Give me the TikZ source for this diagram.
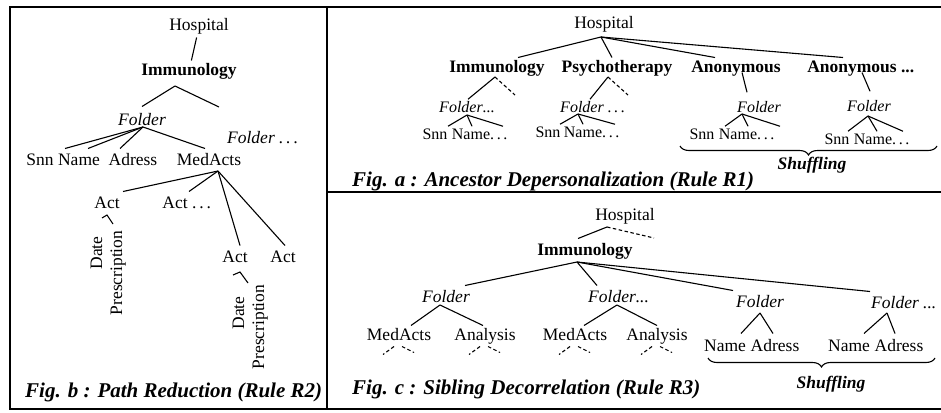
\documentclass[tikz,border=0pt]{standalone}
\usepackage{fontspec}
\setmainfont{Liberation Serif}
\usetikzlibrary{calc, positioning, decorations.pathreplacing}

\begin{document}
\begin{tikzpicture}[x=1pt, y=-1pt,
    lbl/.style={font=\fontsize{17.5}{20}\selectfont, inner sep=1.5pt, outer sep=1pt, text height=12pt, text depth=4pt},
    lblb/.style={lbl, font=\fontsize{17.5}{20}\selectfont\bfseries},
    lbli/.style={lbl, font=\fontsize{17.5}{20}\selectfont\itshape},
    leaf/.style={lbl, font=\fontsize{16}{19}\selectfont, text height=11pt, text depth=3.5pt},
    leafi/.style={leaf, font=\fontsize{16}{19}\selectfont\itshape},
    vlbl/.style={lbl, rotate=90},
    shuf/.style={lbl, font=\fontsize{17.5}{20}\selectfont\bfseries\itshape},
    capt/.style={font=\fontsize{21}{24}\selectfont\bfseries\itshape, inner sep=0pt, anchor=base west},
    tline/.style={line width=1.1pt},
    dashline/.style={tline, dash pattern=on 3.5pt off 2.5pt},
    border/.style={line width=1.8pt},
    brc/.style={line width=1.1pt, decorate, decoration={brace, mirror, amplitude=9pt}}
]
                \useasboundingbox (0,0) rectangle (941,412);

                % Frames
                \draw[border] (941,7) -- (10,7) -- (10,409) -- (941,409);
                \draw[border] (327,7) -- (327,409);
                \draw[border] (327,192) -- (941,192);

                % Fig. b (path reduction)
                \node[lbl] (hospB) at (199,27) {Hospital};
                \node[lblb] (immB) at (189,71) {Immunology};
                \node[lbli] (folB) at (142,121) {Folder};
                \node[lbli] (folB2) at (251,139) {Folder\rlap{~.\,.\,.}};
                \draw[tline] (hospB) -- (immB);
                \coordinate (immBa) at (175,86);
                \coordinate (immBr) at (219,107);
                \draw[tline] (immBa) -- ([yshift=4pt]folB.north);
                \draw[tline] (immBa) -- (immBr);

                \node[lbl] (snnB) at (40,161) {Snn};
                \node[lbl] (nameB) at (79,161) {Name};
                \node[lbl] (adrB) at (133,161) {Adress};
                \node[lbl] (medB) at (209,161) {MedActs};
                \coordinate (folBa) at (143,127);
                \foreach \n/\dx in {snnB/25, nameB/9, adrB/-13, medB/-4} {
                    \draw[tline] (folBa) -- ([xshift=\dx pt, yshift=2pt]\n.north);
                }

                \node[lbl] (actB1) at (107,204) {Act};
                \node[lbl] (actB2) at (175,204) {Act\rlap{~.\,.\,.}};
                \node[lbl] (actB3) at (235,258) {Act};
                \node[lbl] (actB4) at (283,258) {Act};
                \coordinate (medBa) at (218,171);
                \foreach \n/\dx in {actB1/16, actB2/14, actB3/5, actB4/2} {
                    \draw[tline] (medBa) -- ([xshift=\dx pt, yshift=2pt]\n.north);
                }

                \node[vlbl] (dateB1) at (98,253) {Date};
                \node[vlbl] (presB1) at (118,273) {Prescription};
                \node[vlbl] (dateB2) at (240,313) {Date};
                \node[vlbl] (presB2) at (260,327) {Prescription};
                \coordinate (actB1a) at (107,215);
                \coordinate (dB1) at (102,218);
                \coordinate (pB1) at (113,224);
                \draw[tline] (dB1) -- (actB1a) -- (pB1);
                \coordinate (actB3a) at (240,272);
                \coordinate (dB2) at (233,275);
                \coordinate (pB2) at (248,283);
                \draw[tline] (dB2) -- (actB3a) -- (pB2);

                \node[capt] (capB) at (25,397) {Fig. b : Path Reduction (Rule R2)};

                % Fig. a (ancestor depersonalization)
                \node[lbl] (hospA) at (604,25) {Hospital};
                \node[lblb] (immA) at (497,68) {Immunology};
                \node[lblb] (psyA) at (617,68) {Psychotherapy};
                \node[lblb] (anoA1) at (736,68) {Anonymous};
                \node[lblb] (anoA2) at (852,68) {Anonymous\rlap{~...}};
                \coordinate (hospAa) at (601,37);
                \foreach \n/\dx in {immA/21, psyA/-5, anoA1/-21, anoA2/-9} {
                    \draw[tline] (hospAa) -- ([xshift=\dx pt]\n.north);
                }

                \node[leafi] (folA1) at (461,109) {Folder\rlap{...}};
                \node[leaf] (snnA1) at (435,136) {Snn};
                \node[leaf] (nameA1) at (471,136) {Name\rlap{.\,.\,.}};
                \coordinate (immAa) at (495,77);
                \coordinate (immAd) at (515,95);
                \draw[tline] (immAa) -- ([xshift=7pt]folA1.north);
                \draw[dashline] (immAa) -- (immAd);
                \coordinate (folA1a) at (467,115);
                \foreach \n/\dx in {snnA1/13, nameA1/1, nameA1/32} {
                    \draw[tline] (folA1a) -- ([xshift=\dx pt]\n.north);
                }

                \node[leafi] (folA2) at (582,109) {Folder\rlap{~.\,.\,.}};
                \node[leaf] (snnA2) at (548,134) {Snn};
                \node[leaf] (nameA2) at (583,134) {Name\rlap{.\,.\,.}};
                \coordinate (psyAa) at (608,77);
                \coordinate (psyAd) at (628,95);
                \draw[tline] (psyAa) -- ([xshift=8pt]folA2.north);
                \draw[dashline] (psyAa) -- (psyAd);
                \coordinate (folA2a) at (578,114);
                \foreach \n/\dx in {snnA2/12, nameA2/0, nameA2/32} {
                    \draw[tline] (folA2a) -- ([xshift=\dx pt]\n.north);
                }

                \node[leafi] (folA3) at (759,109) {Folder};
                \node[leaf] (snnA3) at (702,136) {Snn};
                \node[leaf] (nameA3) at (738,136) {Name\rlap{.\,.\,.}};
                \draw[tline] ([xshift=6pt, yshift=6pt]anoA1.south) -- ([xshift=-12pt, yshift=7pt]folA3.north);
                \coordinate (folA3a) at (742,114);
                \foreach \n/\dx in {snnA3/23, nameA3/10, nameA3/42} {
                    \draw[tline] (folA3a) -- ([xshift=\dx pt]\n.north);
                }

                \node[leafi] (folA4) at (869,108) {Folder};
                \node[leaf] (snnA4) at (837,141) {Snn};
                \node[leaf] (nameA4) at (873,141) {Name\rlap{.\,.\,.}};
                \draw[tline] ([xshift=10pt, yshift=6pt]anoA2.south) -- ([xshift=1pt, yshift=7pt]folA4.north);
                \coordinate (folA4a) at (868,116);
                \foreach \n/\dx in {snnA4/11, nameA4/4, nameA4/30} {
                    \draw[tline] (folA4a) -- ([xshift=\dx pt]\n.north);
                }

                \coordinate (brA1) at (680,146);
                \coordinate (brA2) at (937,146);
                \draw[brc] (brA1) -- (brA2);
                \node[shuf] (shufA) at (812,165) {Shuffling};

                \node[capt] (capA) at (352,186) {Fig. a : Ancestor Depersonalization (Rule R1)};

                % Fig. c (sibling decorrelation)
                \node[lbl] (hospC) at (625,216) {Hospital};
                \node[lblb] (immC) at (585,251) {Immunology};
                \coordinate (hospCa) at (607,227);
                \coordinate (hospCd) at (654,238);
                \draw[tline] (hospCa) -- ([xshift=-7pt, yshift=2pt]immC.north);
                \draw[dashline] (hospCa) -- (hospCd);

                \node[lbli] (folC1) at (446,298) {Folder};
                \node[lbli] (folC2) at (612,298) {Folder\rlap{...}};
                \node[lbli] (folC3) at (760,303) {Folder};
                \node[lbli] (folC4) at (895,304) {Folder\rlap{~...}};
                \coordinate (immCa) at (577,262);
                \foreach \n/\dx in {folC1/19, folC2/-15, folC3/-27, folC4/-25} {
                    \draw[tline] (immCa) -- ([xshift=\dx pt, yshift=2pt]\n.north);
                }

                \node[lbl] (medC1) at (399,336) {MedActs};
                \node[lbl] (anaC1) at (485,336) {Analysis};
                \node[lbl] (medC2) at (575,336) {MedActs};
                \node[lbl] (anaC2) at (657,336) {Analysis};
                \coordinate (folC1a) at (440,305);
                \coordinate (folC2a) at (617,305);
                \draw[tline] (folC1a) -- ([xshift=12pt]medC1.north);
                \draw[tline] (folC1a) -- ([xshift=-2pt]anaC1.north);
                \draw[tline] (folC2a) -- ([xshift=9pt]medC2.north);
                \draw[tline] (folC2a) -- (anaC2.north);
                % subtrees left out
                \foreach \n in {medC1, anaC1, medC2, anaC2} {
                    \draw[dashline] ([xshift=-5pt]\n.south) -- ([xshift=-16pt, yshift=-8pt]\n.south);
                    \draw[dashline] ([xshift=3pt]\n.south) -- ([xshift=15pt, yshift=-6pt]\n.south);
                }

                \node[lbl] (nmC3) at (725,347) {Name};
                \node[lbl] (adC3) at (775,347) {Adress};
                \node[lbl] (nmC4) at (849,347) {Name};
                \node[lbl] (adC4) at (899,347) {Adress};
                \coordinate (folC3a) at (760,313);
                \coordinate (folC4a) at (887,313);
                \draw[tline] (folC3a) -- ([xshift=16pt, yshift=3pt]nmC3.north);
                \draw[tline] (folC3a) -- ([xshift=-2pt, yshift=3pt]adC3.north);
                \draw[tline] (folC4a) -- ([xshift=15pt, yshift=3pt]nmC4.north);
                \draw[tline] (folC4a) -- ([xshift=-4pt, yshift=3pt]adC4.north);

                \coordinate (brC1) at (708,358);
                \coordinate (brC2) at (935,358);
                \draw[brc] (brC1) -- (brC2);
                \node[shuf] (shufC) at (831,384) {Shuffling};

                \node[capt] (capC) at (352,394) {Fig. c : Sibling Decorrelation (Rule R3)};
            \end{tikzpicture}
\end{document}
